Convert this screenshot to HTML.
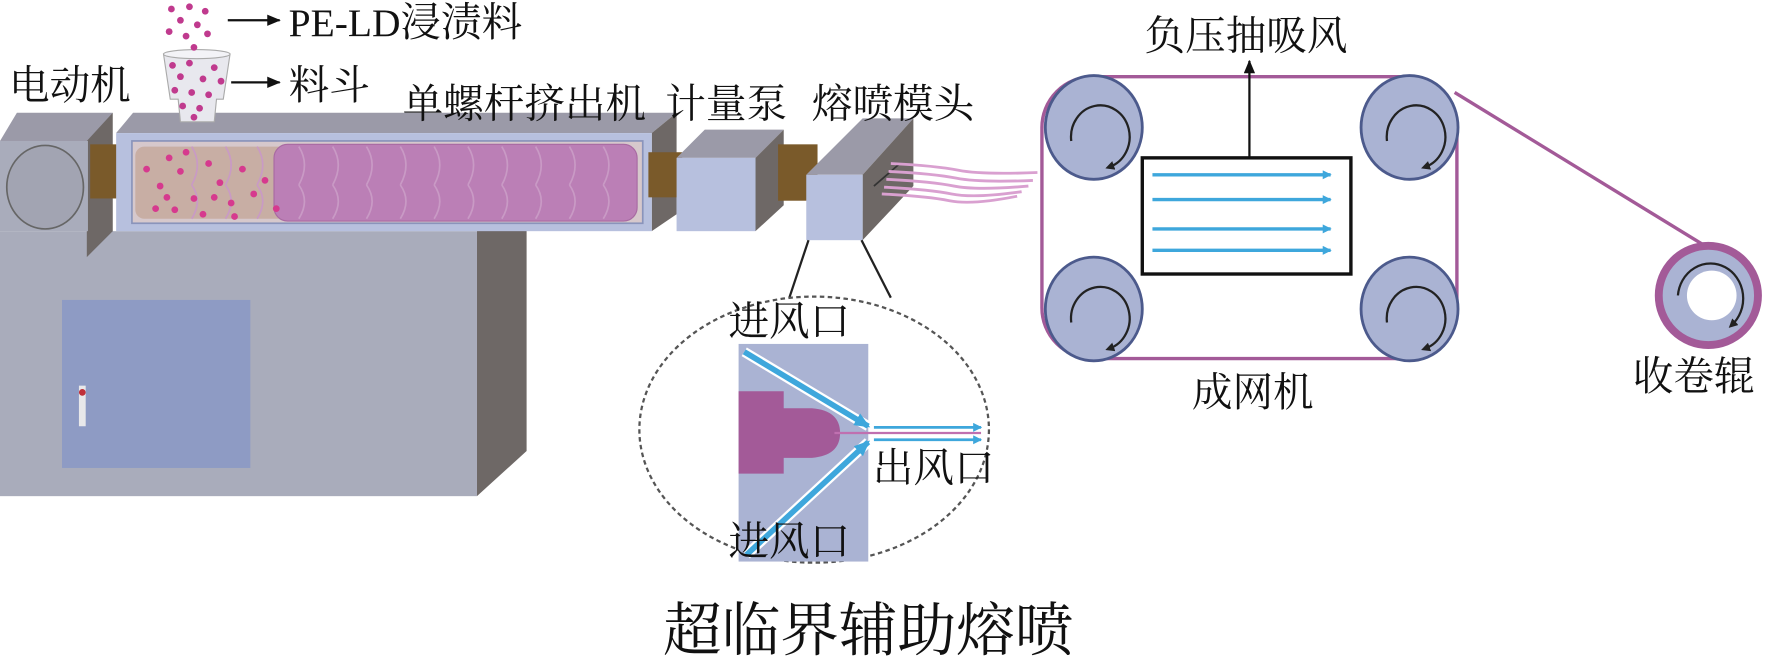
<!DOCTYPE html>
<html><head><meta charset="utf-8"><style>
html,body{margin:0;padding:0;background:#fff;}
svg{display:block}
text{font-family:"Liberation Serif","Noto Serif CJK SC",serif;fill:#111}
</style></head><body>
<svg width="1767" height="660" viewBox="0 0 1567 585.3" preserveAspectRatio="none" xmlns="http://www.w3.org/2000/svg">
<defs>
<marker id="ab" markerWidth="8" markerHeight="8" refX="7" refY="4" orient="auto" markerUnits="userSpaceOnUse"><path d="M0,0 L8,4 L0,8z" fill="#3ea7dc"/></marker>
<marker id="ak" markerWidth="12" markerHeight="10" refX="11" refY="5" orient="auto" markerUnits="userSpaceOnUse"><path d="M0,0 L12,5 L0,10z" fill="#111"/></marker>
<marker id="ar" markerWidth="8" markerHeight="8" refX="4" refY="4" orient="auto" markerUnits="userSpaceOnUse"><path d="M0,0 L8,4 L0,8z" fill="#222"/></marker>
<marker id="abb" markerWidth="14" markerHeight="12" refX="12" refY="6" orient="auto" markerUnits="userSpaceOnUse"><path d="M0,0 L14,6 L0,12z" fill="#3ea7dc"/></marker>
</defs>

<!-- cabinet -->
<polygon points="423,205 467,180 467,400 423,440" fill="#6e6866"/>
<rect x="0" y="205" width="423" height="235" fill="#a9acbb"/>
<rect x="55" y="266" width="167" height="149" fill="#8e9bc4"/>
<rect x="70" y="342" width="6" height="36" fill="#e8e8ea"/>
<circle cx="73" cy="348" r="3" fill="#c0303a"/>

<!-- motor -->
<polygon points="0,125 15,100 100,100 85,125" fill="#9b9aa8"/>
<polygon points="77,125 100,100 100,205 77,228" fill="#6e6866"/>
<rect x="0" y="125" width="78" height="80" fill="#a9acbb"/>
<ellipse cx="40" cy="166" rx="34" ry="37" fill="#a2a4b2" stroke="#666" stroke-width="1.5"/>
<rect x="80" y="128" width="40" height="48" fill="#7a5a2a"/>

<!-- extruder -->
<polygon points="103,118 118,100 600,100 578,118" fill="#9b9aa8"/>
<polygon points="578,118 600,100 600,190 578,205" fill="#6e6866"/>
<rect x="103" y="118" width="475" height="87" fill="#b7c0de"/>
<rect x="117" y="125" width="453" height="73" fill="#d6c8cc" stroke="#8a94bb" stroke-width="1.5"/>
<rect x="120" y="130" width="245" height="64" rx="8" fill="#c8aea4"/>
<rect x="243" y="128" width="322" height="68" rx="12" fill="#bb7fb6" stroke="#a86aa2" stroke-width="1"/>
<g stroke="#c99ac5" stroke-width="1.5" fill="none">
<path d="M265,130 q10,16 0,34 M265,164 q10,14 0,30"/>
<path d="M295,130 q10,16 0,34 M295,164 q10,14 0,30"/>
<path d="M325,130 q10,16 0,34 M325,164 q10,14 0,30"/>
<path d="M355,130 q10,16 0,34 M355,164 q10,14 0,30"/>
<path d="M385,130 q10,16 0,34 M385,164 q10,14 0,30"/>
<path d="M415,130 q10,16 0,34 M415,164 q10,14 0,30"/>
<path d="M445,130 q10,16 0,34 M445,164 q10,14 0,30"/>
<path d="M475,130 q10,16 0,34 M475,164 q10,14 0,30"/>
<path d="M505,130 q10,16 0,34 M505,164 q10,14 0,30"/>
<path d="M535,130 q10,16 0,34 M535,164 q10,14 0,30"/>
<path d="M170,130 q10,16 0,34 M170,164 q10,14 0,30"/>
<path d="M200,130 q10,16 0,34 M200,164 q10,14 0,30"/>
<path d="M228,130 q10,16 0,34 M228,164 q10,14 0,30"/>
</g>
<g fill="#d63a8e">
<circle cx="150" cy="140" r="3"/><circle cx="160" cy="152" r="3"/><circle cx="142" cy="165" r="3"/><circle cx="172" cy="176" r="3"/><circle cx="155" cy="186" r="3"/><circle cx="185" cy="145" r="3"/><circle cx="195" cy="162" r="3"/><circle cx="180" cy="190" r="3"/><circle cx="205" cy="180" r="3"/><circle cx="215" cy="150" r="3"/><circle cx="225" cy="172" r="3"/><circle cx="138" cy="185" r="3"/><circle cx="165" cy="135" r="3"/><circle cx="208" cy="192" r="3"/><circle cx="235" cy="160" r="3"/><circle cx="245" cy="185" r="3"/><circle cx="130" cy="150" r="3"/><circle cx="190" cy="175" r="3"/><circle cx="148" cy="175" r="3"/>
</g>

<!-- hopper -->
<polygon points="145,48 204,48 198,88 192,88 190,108 160,108 158,88 151,88" fill="#e8e8ee" stroke="#aaa" stroke-width="1"/>
<ellipse cx="174.5" cy="48" rx="29.5" ry="4" fill="#f3f3f7" stroke="#aaa"/>
<g fill="#c03a8e">
<circle cx="152" cy="8" r="3"/><circle cx="168" cy="6" r="3"/><circle cx="182" cy="10" r="3"/><circle cx="160" cy="18" r="3"/><circle cx="175" cy="22" r="3"/><circle cx="150" cy="28" r="3"/><circle cx="165" cy="32" r="3"/><circle cx="184" cy="30" r="3"/><circle cx="172" cy="42" r="3"/>
<circle cx="153" cy="58" r="3"/><circle cx="168" cy="56" r="3"/><circle cx="190" cy="60" r="3"/><circle cx="160" cy="68" r="3"/><circle cx="180" cy="70" r="3"/><circle cx="196" cy="72" r="3"/><circle cx="155" cy="80" r="3"/><circle cx="170" cy="82" r="3"/><circle cx="185" cy="84" r="3"/><circle cx="162" cy="94" r="3"/><circle cx="177" cy="96" r="3"/><circle cx="172" cy="104" r="3"/>
</g>
<line x1="202" y1="18" x2="248" y2="18" stroke="#111" stroke-width="2" marker-end="url(#ak)"/>
<line x1="205" y1="73" x2="248" y2="73" stroke="#111" stroke-width="2" marker-end="url(#ak)"/>

<!-- shaft 2, pump -->
<rect x="575" y="135" width="30" height="40" fill="#7a5a2a"/>
<polygon points="600,140 625,115 695,115 670,140" fill="#9b9aa8"/>
<polygon points="670,140 695,115 695,182 670,205" fill="#6e6866"/>
<rect x="600" y="140" width="70" height="65" fill="#b7c0de"/>
<rect x="690" y="128" width="35" height="50" fill="#7a5a2a"/>

<!-- die -->
<polygon points="715,155 765,105 810,105 765,155" fill="#9b9aa8"/>
<polygon points="765,155 810,105 810,165 765,213" fill="#6e6866"/>
<rect x="715" y="155" width="50" height="58" fill="#b7c0de"/>
<line x1="775" y1="165" x2="798" y2="145" stroke="#333" stroke-width="1.5"/>
<g stroke="#d9a0d0" stroke-width="2.5" fill="none">
<path d="M790,145 q40,2 60,6 t70,2"/>
<path d="M788,152 q40,2 60,6 t68,2"/>
<path d="M786,159 q40,2 60,6 t66,0"/>
<path d="M784,166 q40,2 60,6 t62,-2"/>
<path d="M782,172 q40,2 60,6 t60,-4"/>
</g>

<line x1="717" y1="213" x2="700" y2="264" stroke="#222" stroke-width="2"/>
<line x1="764" y1="213" x2="790" y2="264" stroke="#222" stroke-width="2"/>
<ellipse cx="722" cy="381" rx="155" ry="118" fill="none" stroke="#555" stroke-width="2" stroke-dasharray="4,3"/>

<!-- inner die -->
<rect x="655" y="305" width="115" height="193" fill="#aab3d3"/>
<path d="M655,347 H695 V362 H720 Q745,364 745,384 Q745,404 720,406 H695 V420 H655z" fill="#a35a98"/>
<line x1="740" y1="384" x2="870" y2="384" stroke="#c070b0" stroke-width="2"/>
<line x1="660" y1="312" x2="770" y2="378" stroke="#fff" stroke-width="9"/>
<line x1="660" y1="312" x2="770" y2="378" stroke="#3ea7dc" stroke-width="5" marker-end="url(#abb)"/>
<line x1="662" y1="492" x2="770" y2="392" stroke="#fff" stroke-width="9"/>
<line x1="662" y1="492" x2="770" y2="392" stroke="#3ea7dc" stroke-width="5" marker-end="url(#abb)"/>
<line x1="775" y1="379" x2="870" y2="379" stroke="#3ea7dc" stroke-width="2.5" marker-end="url(#ab)"/>
<line x1="775" y1="390" x2="870" y2="390" stroke="#3ea7dc" stroke-width="2.5" marker-end="url(#ab)"/>

<!-- forming machine -->
<rect x="924" y="68" width="368" height="250" rx="45" fill="none" stroke="#a35a98" stroke-width="3"/>
<line x1="1290" y1="82" x2="1512" y2="218" stroke="#a35a98" stroke-width="3"/>
<g fill="#aab3d3" stroke="#4c5a8c" stroke-width="2.5">
<ellipse cx="970" cy="113" rx="43" ry="46"/>
<ellipse cx="1250" cy="113" rx="43" ry="46"/>
<ellipse cx="970" cy="274" rx="43" ry="46"/>
<ellipse cx="1250" cy="274" rx="43" ry="46"/>
</g>
<!-- winding roller -->
<circle cx="1515" cy="262" r="44" fill="#aab3d3" stroke="#a35a98" stroke-width="7"/>
<circle cx="1518" cy="262" r="22" fill="#fff"/>
<g fill="none" stroke="#222" stroke-width="2" marker-end="url(#ar)">
<path d="M950,125 A26,28 0 1 1 984,148"/>
<path d="M1230,125 A26,28 0 1 1 1264,148"/>
<path d="M950,286 A26,28 0 1 1 984,309"/>
<path d="M1230,286 A26,28 0 1 1 1264,309"/>
<path d="M1488,262 A29,31 0 1 1 1536,288"/>
</g>
<rect x="1013" y="140" width="185" height="103" fill="#fff" stroke="#111" stroke-width="3"/>
<g stroke="#3ea7dc" stroke-width="3" marker-end="url(#ab)">
<line x1="1022" y1="155" x2="1180" y2="155"/>
<line x1="1022" y1="177" x2="1180" y2="177"/>
<line x1="1022" y1="203" x2="1180" y2="203"/>
<line x1="1022" y1="222" x2="1180" y2="222"/>
</g>
<line x1="1108" y1="140" x2="1108" y2="54" stroke="#111" stroke-width="2" marker-end="url(#ak)"/>

<!-- labels -->
<g font-size="36">
<text x="8" y="88">电动机</text>
<text x="256" y="32"><tspan font-size="35">PE-LD</tspan>浸渍料</text>
<text x="256" y="88">料斗</text>
<text x="357" y="104">单螺杆挤出机</text>
<text x="590" y="104">计量泵</text>
<text x="720" y="104">熔喷模头</text>
<text x="1015" y="44">负压抽吸风</text>
<text x="1057" y="360">成网机</text>
<text x="1448" y="346">收卷辊</text>
<text x="646" y="297">进风口</text>
<text x="774" y="427">出风口</text>
<text x="646" y="492">进风口</text>
</g>
<text x="588" y="577" font-size="52">超临界辅助熔喷</text>
</svg>
</body></html>
